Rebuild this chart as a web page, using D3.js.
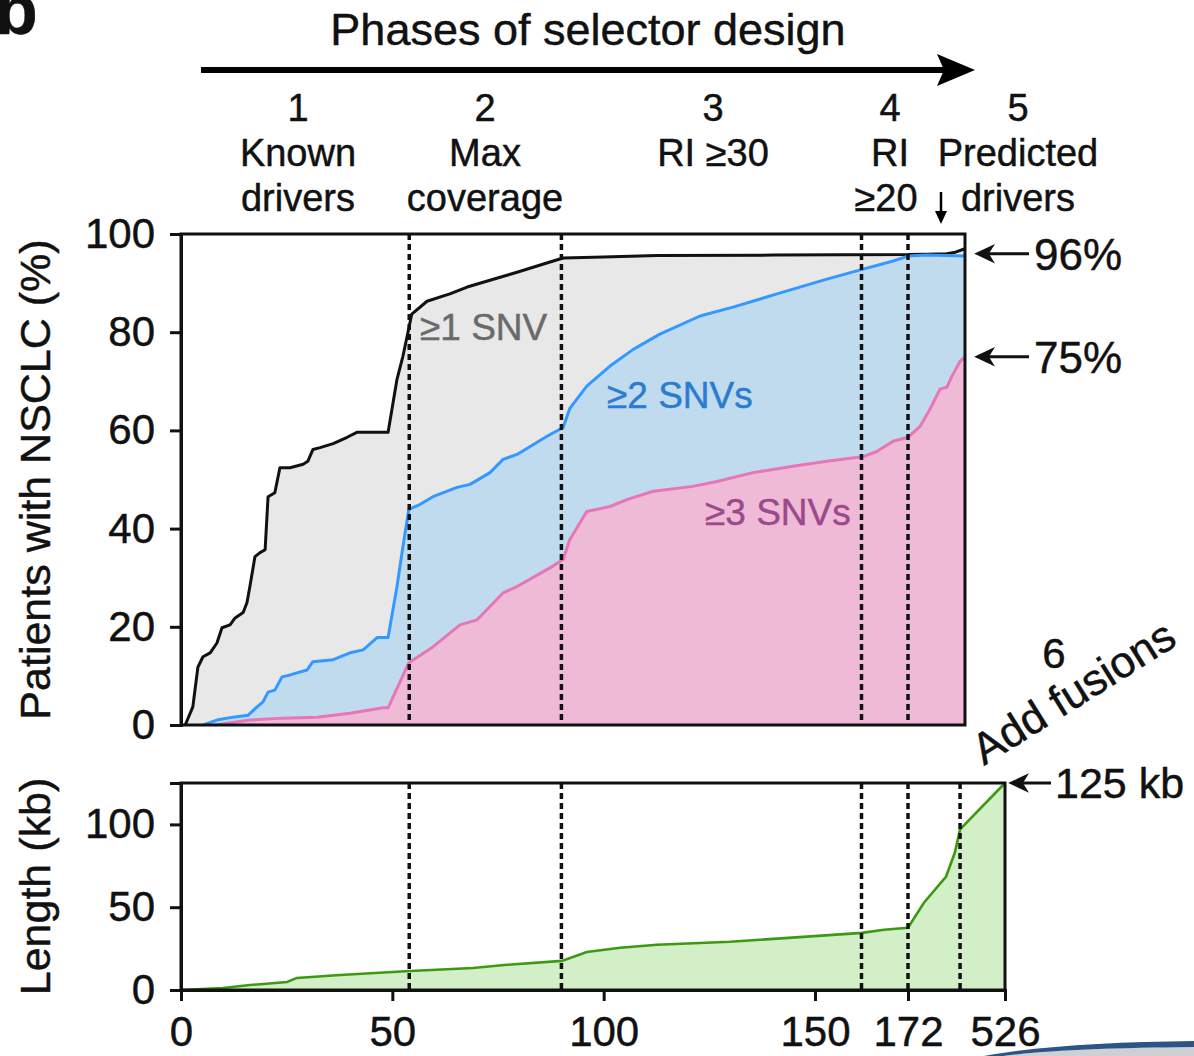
<!DOCTYPE html>
<html>
<head>
<meta charset="utf-8">
<script src="https://cdn.jsdelivr.net/npm/d3@7"></script>
<style>
  html, body { margin: 0; padding: 0; background: #fff; }
  svg text { font-family: "Liberation Sans", Arial, Helvetica, sans-serif; fill: #111; stroke: #111; stroke-width: 0.45px; }
</style>
</head>
<body>
<svg id="chart" width="1194" height="1056"></svg>
<script>
"use strict";

// --- data ---
// x = selector position (ranked regions), piecewise axis 0..172 | 172..526
var snv1X = [1, 2.8, 4, 5.2, 6.9, 8.5, 9.7, 11.6, 12.8, 14.7, 15.6, 16.3, 17.5, 18.7, 19.9, 20.6, 22.2, 23.4, 25.8, 28.9, 30, 31.2, 32.9, 36, 39.3, 41.6, 49, 51.1, 52.5, 53.7, 54.6, 58.2, 63.6, 67.7, 75.5, 79.5, 87.3, 90.4, 100, 112.6, 140, 172, 240, 314, 345, 380];
var snv1Y = [0, 3.7, 11.8, 13.9, 14.7, 16.7, 19.8, 20.4, 21.8, 22.9, 24.9, 28.2, 34.3, 35.1, 35.7, 46.5, 47.3, 52.4, 52.4, 53.1, 53.7, 56.1, 56.5, 57.3, 58.6, 59.6, 59.6, 70.4, 75.1, 80, 83.7, 86.3, 87.8, 89.2, 91.2, 92.2, 94.3, 95.1, 95.3, 95.6, 95.7, 95.8, 95.9, 96, 96.3, 97];

var snv2X = [5.2, 8.5, 12.3, 15.9, 18, 19.4, 20.6, 22.2, 23.9, 25.8, 29.8, 31.2, 36, 40, 43.1, 46.4, 49, 51.1, 52.5, 53.9, 56.5, 59.6, 65.3, 68.4, 73.1, 76.2, 79.5, 86.6, 90.4, 92, 96, 101.5, 107, 113.3, 122.8, 130.6, 141, 152.8, 161.6, 168.5, 172, 241, 380];
var snv2Y = [0, 1, 1.6, 2, 3.7, 4.7, 6.7, 7.1, 9.8, 10.2, 11.2, 12.9, 13.3, 14.7, 15.3, 17.8, 17.8, 28.2, 36.3, 43.9, 44.9, 46.5, 48.4, 49, 51.4, 54.1, 55.1, 58.8, 60.6, 64.5, 69, 73.1, 76.5, 79.6, 83.3, 85.1, 87.8, 90.8, 92.9, 94.5, 95.5, 95.7, 95.5];

var snv3X = [8, 16.3, 24.1, 32.2, 40, 47.8, 49, 51.3, 53.9, 59.6, 66, 70, 76.2, 79.5, 87.3, 90.4, 92, 96, 101.5, 105.5, 111.7, 121.1, 126.8, 135.3, 144.8, 152.8, 161.6, 164.6, 168.5, 172, 216, 252, 289, 314, 332, 362, 380];
var snv3Y = [0, 1, 1.4, 1.6, 2.4, 3.5, 3.5, 7.8, 12.7, 15.9, 20.4, 21.4, 26.9, 28.2, 32, 33.7, 37.8, 43.5, 44.5, 45.9, 47.6, 48.6, 49.6, 51.4, 52.7, 53.7, 54.7, 55.7, 57.8, 58.6, 60.8, 64.3, 68.4, 68.8, 71, 74.1, 74.9];

var lengthX = [0, 9.9, 16.3, 25.1, 27.4, 37.6, 54.2, 69.1, 77.1, 90.1, 96, 103.9, 112.6, 129.9, 147.2, 161.1, 166.3, 172, 230, 311, 343, 362, 526];
var lengthY = [0, 1.2, 3, 4.8, 7.3, 9.1, 11.5, 13.3, 15.2, 17.6, 23, 25.5, 27.3, 29.1, 32.1, 34.5, 36.4, 37.6, 52.7, 68.5, 83, 97, 125];

var phaseBreaksTop = [54, 90, 161, 172];
var phaseBreaksBottom = [54, 90, 161, 172, 362];
var topXMax = 380;

var topTicks = [0, 20, 40, 60, 80, 100];
var bottomYTicks = [0, 50, 100];
var bottomXTicks = [0, 50, 100, 150, 172, 526];

var phaseLabels = [
  ["1", "Known", "drivers"],
  ["2", "Max", "coverage"],
  ["3", "RI \u226530"],
  ["4", "RI", "\u226520"],
  ["5", "Predicted", "drivers"]
];
var seriesNames = ["\u22651 SNV", "\u22652 SNVs", "\u22653 SNVs"];
var endValues = [96, 75];
var totalKb = 125;

// --- layout ---
var svg = d3.select("#chart");
var font = 42;

var x = d3.scaleLinear().domain([0, 172, 526]).range([181, 908, 1005]);
var yTop = d3.scaleLinear().domain([0, 100]).range([725, 234]);
var yBot = d3.scaleLinear().domain([0, 125]).range([990, 783]);

function zipXY(xs, ys) {
  return xs.map(function(v, i) { return [v, ys[i]]; });
}

// panel letter + phase header
svg.append("text")
  .attr("x", -5).attr("y", 34)
  .style("font-size", "70px").style("font-weight", "bold")
  .text("b");

svg.append("text")
  .attr("x", 588).attr("y", 45)
  .attr("text-anchor", "middle")
  .style("font-size", "45px")
  .text("Phases of selector design");

svg.append("line")
  .attr("x1", 201).attr("x2", 945)
  .attr("y1", 70).attr("y2", 70)
  .attr("stroke", "#000").attr("stroke-width", 6);
svg.append("path")
  .attr("d", "M975,70 L937,54 L944,70 L937,86 Z")
  .attr("fill", "#000");

var phaseLabelX = [298, 485, 713, 890, 1018];
var lineY = [121, 166, 211];
phaseLabels.forEach(function(lines, i) {
  var t = svg.append("text")
    .attr("text-anchor", "middle")
    .style("font-size", "38px");
  lines.forEach(function(s, j) {
    t.append("tspan").attr("x", phaseLabelX[i] - (i === 3 && j === 2 ? 4 : 0)).attr("y", lineY[j]).text(s);
  });
});
// small down arrow into phase 5
svg.append("line")
  .attr("x1", 941).attr("x2", 941).attr("y1", 192).attr("y2", 216)
  .attr("stroke", "#000").attr("stroke-width", 2.5);
svg.append("path").attr("d", "M941,224 L935,211 L947,211 Z").attr("fill", "#000");

// --- top panel ---
var topG = svg.append("g");
var areaTop = d3.area().x(function(d) { return x(d[0]); }).y0(yTop(0)).y1(function(d) { return yTop(d[1]); });
var lineTop = d3.line().x(function(d) { return x(d[0]); }).y(function(d) { return yTop(d[1]); });

var topSeries = [
  { pts: zipXY(snv1X, snv1Y), fill: "#e8e8e8", stroke: "#111111" },
  { pts: zipXY(snv2X, snv2Y), fill: "#c0dbee", stroke: "#3399ff" },
  { pts: zipXY(snv3X, snv3Y), fill: "#efbad5", stroke: "#e676b6" }
];

topSeries.forEach(function(s) {
  topG.append("path").attr("d", areaTop(s.pts)).attr("fill", s.fill);
});
topSeries.forEach(function(s) {
  topG.append("path").attr("d", lineTop(s.pts))
    .attr("fill", "none").attr("stroke", s.stroke)
    .attr("stroke-width", 3).attr("stroke-linejoin", "round");
});

topG.selectAll("line.phase")
  .data(phaseBreaksTop)
  .enter().append("line")
  .attr("class", "phase")
  .attr("x1", function(d) { return x(d); }).attr("x2", function(d) { return x(d); })
  .attr("y1", yTop(100)).attr("y2", yTop(0))
  .attr("stroke", "#111").attr("stroke-width", 3.5).attr("stroke-dasharray", "6,4");

topG.append("rect")
  .attr("x", x(0)).attr("y", yTop(100))
  .attr("width", x(topXMax) - x(0)).attr("height", yTop(0) - yTop(100))
  .attr("fill", "none").attr("stroke", "#111").attr("stroke-width", 3);

topG.append("g")
  .attr("transform", "translate(" + x(0) + ",0)")
  .call(d3.axisLeft(yTop).tickValues(topTicks).tickSize(11).tickPadding(15));

var seriesLabelPos = [[420, 340, "#6a6a6a"], [607, 408, "#2b7bd0"], [705, 525, "#9a4a8c"]];
seriesNames.forEach(function(name, i) {
  topG.append("text")
    .attr("x", seriesLabelPos[i][0]).attr("y", seriesLabelPos[i][1])
    .style("font-size", "37px").style("fill", seriesLabelPos[i][2]).style("stroke", seriesLabelPos[i][2])
    .text(name);
});

svg.append("text")
  .attr("transform", "translate(50," + ((yTop(0) + yTop(100)) / 2) + ") rotate(-90)")
  .attr("text-anchor", "middle")
  .style("font-size", "43px")
  .text("Patients with NSCLC (%)");

// --- bottom panel ---
var botG = svg.append("g");
var lenPts = zipXY(lengthX, lengthY);
botG.append("path")
  .attr("d", d3.area().x(function(d) { return x(d[0]); }).y0(yBot(0)).y1(function(d) { return yBot(d[1]); })(lenPts))
  .attr("fill", "#d3efc8");
botG.append("path")
  .attr("d", d3.line().x(function(d) { return x(d[0]); }).y(function(d) { return yBot(d[1]); })(lenPts))
  .attr("fill", "none").attr("stroke", "#3b9a12").attr("stroke-width", 2.6);

botG.selectAll("line.phase")
  .data(phaseBreaksBottom)
  .enter().append("line")
  .attr("class", "phase")
  .attr("x1", function(d) { return x(d); }).attr("x2", function(d) { return x(d); })
  .attr("y1", yBot(125)).attr("y2", yBot(0))
  .attr("stroke", "#111").attr("stroke-width", 3.5).attr("stroke-dasharray", "6,4");

botG.append("rect")
  .attr("x", x(0)).attr("y", yBot(125))
  .attr("width", x(526) - x(0)).attr("height", yBot(0) - yBot(125))
  .attr("fill", "none").attr("stroke", "#111").attr("stroke-width", 3);

botG.append("g")
  .attr("transform", "translate(" + x(0) + ",0)")
  .call(d3.axisLeft(yBot).tickValues(bottomYTicks).tickSize(11).tickPadding(15));

botG.append("g")
  .attr("transform", "translate(0," + yBot(0) + ")")
  .call(d3.axisBottom(x).tickValues(bottomXTicks).tickFormat(d3.format("d")).tickSize(11).tickPadding(15));

svg.append("text")
  .attr("transform", "translate(50," + ((yBot(0) + yBot(125)) / 2) + ") rotate(-90)")
  .attr("text-anchor", "middle")
  .style("font-size", "43px")
  .text("Length (kb)");

// axis styling
svg.selectAll(".domain").attr("stroke", "#111").attr("stroke-width", 3);
svg.selectAll(".tick line").attr("stroke", "#111").attr("stroke-width", 3);
svg.selectAll(".tick text").style("font-size", font + "px")
  .style("font-family", "'Liberation Sans', Arial, sans-serif").attr("fill", "#111");

// --- right-hand annotations ---
function leftArrow(xTip, xEnd, yy) {
  svg.append("line").attr("x1", xTip + 3).attr("x2", xEnd).attr("y1", yy).attr("y2", yy)
    .attr("stroke", "#111").attr("stroke-width", 3);
  svg.append("path")
    .attr("d", "M" + xTip + "," + yy + " L" + (xTip + 17) + "," + (yy - 8) + " L" + (xTip + 12) + "," + yy + " L" + (xTip + 17) + "," + (yy + 8) + " Z")
    .attr("fill", "#111").attr("stroke", "#111").attr("stroke-width", 1.5);
}

endValues.forEach(function(v) {
  leftArrow(976, 1029, yTop(v));
  svg.append("text").attr("x", 1034).attr("y", yTop(v) + 16)
    .style("font-size", "44px").text(v + "%");
});

leftArrow(1010, 1051, yBot(totalKb));
svg.append("text").attr("x", 1055).attr("y", yBot(totalKb) + 15)
  .style("font-size", "43px").text(totalKb + " kb");

svg.append("text").attr("x", 1054).attr("y", 668)
  .attr("text-anchor", "middle").style("font-size", font + "px").text("6");
svg.append("text")
  .attr("transform", "translate(984,766) rotate(-32)")
  .style("font-size", "44px").text("Add fusions");

// page-curl edge visible in the scan
svg.append("path")
  .attr("d", "M1003,1056 C1050,1050 1110,1048 1194,1047 L1194,1056 Z")
  .attr("fill", "#cfd0d3");
svg.append("path")
  .attr("d", "M984,1056 C1040,1046 1110,1042 1194,1041 L1194,1047 C1110,1048 1050,1050 1003,1056 Z")
  .attr("fill", "#2d5487");
</script>
</body>
</html>
